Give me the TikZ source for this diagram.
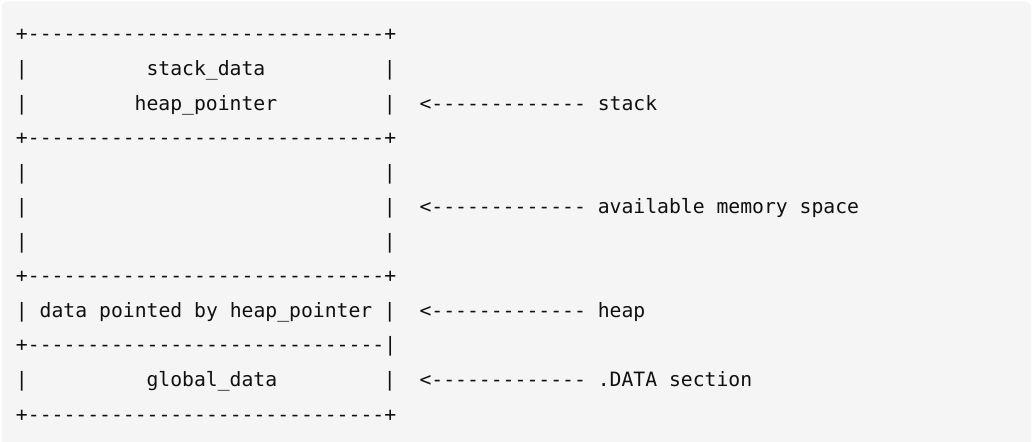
\documentclass[tikz,border=0pt]{standalone}
\usepackage{fontspec}
\setmonofont{DejaVu Sans Mono}
\usepackage{tikz}
\usetikzlibrary{positioning}
\definecolor{codebg}{HTML}{F5F5F5}
\definecolor{codeink}{HTML}{101010}
% column / row of the monospaced grid, in pixels
\newcommand{\colx}[1]{16+11.87*(#1)}
\newcommand{\rowy}[1]{41+34.55*(#1-1)}
\tikzset{
  ascii/.style={inner sep=0pt,outer sep=0pt,anchor=base west,text=codeink,
               font=\ttfamily\fontsize{14.8}{17}\selectfont},
  border/.style={ascii},
  wall/.style={ascii},
  cell/.style={ascii},
  pointer/.style={ascii},
  region/.style={ascii},
}

\begin{document}
\begin{tikzpicture}[x=0.75pt,y=-0.75pt,node distance=8.9pt]
  \useasboundingbox[fill=white] (0,0) rectangle (1035,442);
  \fill[codebg,rounded corners=5pt] (1.5,1.5) rectangle (1031,452);
  % horizontal borders
  \node[border] (top)    at ({\colx{0}},{\rowy{1}})  {+------------------------------+};
  \node[border] (sep1)   at ({\colx{0}},{\rowy{4}})  {+------------------------------+};
  \node[border] (sep2)   at ({\colx{0}},{\rowy{8}})  {+------------------------------+};
  \node[border] (sep3)   at ({\colx{0}},{\rowy{10}}) {+------------------------------|};
  \node[border] (bottom) at ({\colx{0}},{\rowy{12}}) {+------------------------------+};
  % side walls
  \foreach \r in {2,3,5,6,7,9,11} {
    \node[wall] (wl\r) at ({\colx{0}},{\rowy{\r}})  {|};
    \node[wall] (wr\r) at ({\colx{31}},{\rowy{\r}}) {|};
  }
  % cell contents
  \node[cell] (stk)  at ({\colx{11}},{\rowy{2}})  {stack\_data};
  \node[cell] (hptr) at ({\colx{10}},{\rowy{3}})  {heap\_pointer};
  \node[cell] (hdat) at ({\colx{2}},{\rowy{9}})   {data pointed by heap\_pointer};
  \node[cell] (glob) at ({\colx{11}},{\rowy{11}}) {global\_data};
  % pointers to the regions
  \node[pointer] (a1) at ({\colx{34}},{\rowy{3}})  {<-------------};
  \node[pointer] (a2) at ({\colx{34}},{\rowy{6}})  {<-------------};
  \node[pointer] (a3) at ({\colx{34}},{\rowy{9}})  {<-------------};
  \node[pointer] (a4) at ({\colx{34}},{\rowy{11}}) {<-------------};
  \node[region,base right=of a1] (rstack) {stack};
  \node[region,base right=of a2] (rfree)  {available memory space};
  \node[region,base right=of a3] (rheap)  {heap};
  \node[region,base right=of a4] (rdata)  {.DATA section};
\end{tikzpicture}
\end{document}
